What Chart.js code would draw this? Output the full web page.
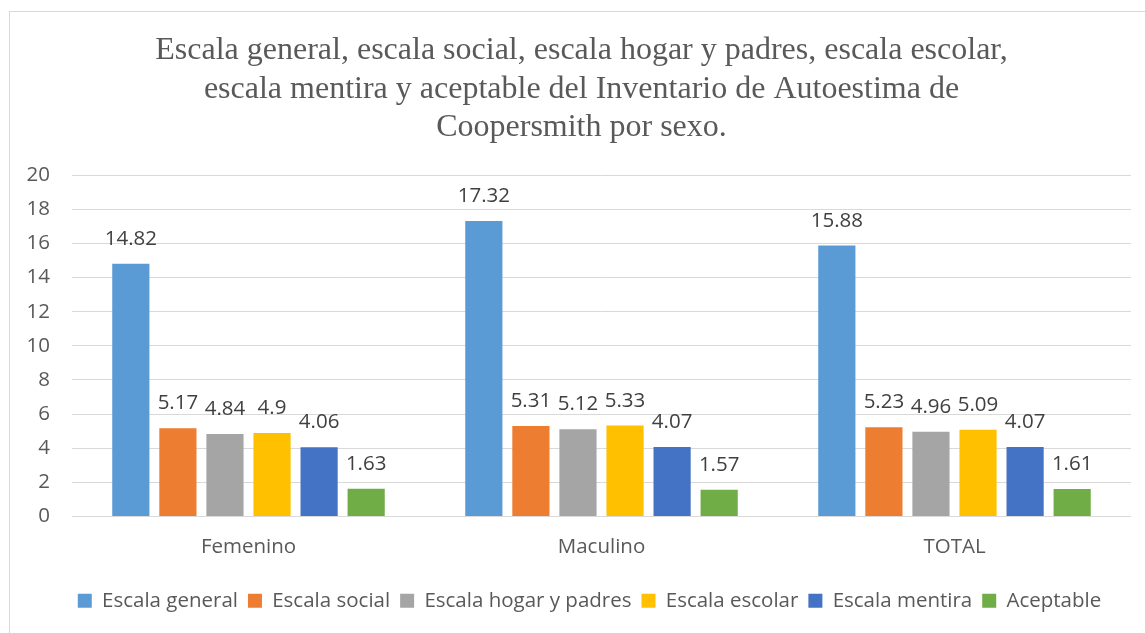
<!DOCTYPE html>
<html>
<head>
<meta charset="utf-8">
<script src="https://cdn.jsdelivr.net/npm/chart.js@4.4.1/dist/chart.umd.min.js"></script>
<style>
  html, body { margin: 0; padding: 0; background: #fff; overflow: hidden; }
  #wrap { position: relative; width: 1145px; height: 633px; }
</style>
</head>
<body>
<div id="wrap"><canvas id="chart" width="1145" height="633"></canvas></div>
<script>
// Autoestima (Coopersmith) por sexo
const categories = ['Femenino', 'Maculino', 'TOTAL'];
const seriesNames = ['Escala general', 'Escala social', 'Escala hogar y padres', 'Escala escolar', 'Escala mentira', 'Aceptable'];
const escalaGeneral = [14.82, 17.32, 15.88];
const escalaSocial = [5.17, 5.31, 5.23];
const escalaHogar = [4.84, 5.12, 4.96];
const escalaEscolar = [4.9, 5.33, 5.09];
const escalaMentira = [4.06, 4.07, 4.07];
const aceptable = [1.63, 1.57, 1.61];
const yTicks = [0, 2, 4, 6, 8, 10, 12, 14, 16, 18, 20];

const colors = ['#5B9BD5', '#ED7D31', '#A5A5A5', '#FFC000', '#4472C4', '#70AD47'];
const allValues = [escalaGeneral, escalaSocial, escalaHogar, escalaEscolar, escalaMentira, aceptable];

const sansFont = "'Open Sans', 'Noto Sans', sans-serif";
const textSize = 20.5;

// frame around the whole chart
const framePlugin = {
  id: 'frame',
  beforeDraw(chart) {
    const ctx = chart.ctx;
    ctx.save();
    ctx.strokeStyle = '#d9d9d9';
    ctx.lineWidth = 1;
    ctx.strokeRect(9.5, 11.5, 1145, 633);
    ctx.restore();
  }
};

// title and legend sit centred on the framed box, not the canvas
const shiftBlocks = {
  id: 'shiftBlocks',
  afterLayout(chart) {
    chart.titleBlock.left += 16;
    chart.titleBlock.right += 16;
    chart.legend.left += 24;
    chart.legend.right += 24;
  }
};

// value labels above each bar
const valueLabels = {
  id: 'valueLabels',
  afterDatasetsDraw(chart) {
    const ctx = chart.ctx;
    ctx.save();
    ctx.font = textSize + 'px ' + sansFont;
    ctx.fillStyle = '#404040';
    ctx.textAlign = 'center';
    ctx.textBaseline = 'alphabetic';
    chart.data.datasets.forEach((ds, i) => {
      chart.getDatasetMeta(i).data.forEach((bar, j) => {
        ctx.fillText(String(ds.data[j]), bar.x, bar.y - 19);
      });
    });
    ctx.restore();
  }
};

new Chart(document.getElementById('chart'), {
  type: 'bar',
  data: {
    labels: categories,
    datasets: seriesNames.map((name, i) => ({
      label: name,
      data: allValues[i],
      backgroundColor: colors[i],
      borderWidth: 0,
      categoryPercentage: 0.8,
      barPercentage: 0.79
    }))
  },
  options: {
    responsive: false,
    animation: false,
    layout: { padding: { top: 20, right: 14, bottom: 12, left: 0 } },
    plugins: {
      title: {
        display: true,
        text: [
          'Escala general, escala social, escala hogar y padres, escala escolar,',
          'escala mentira y aceptable del Inventario de Autoestima de',
          'Coopersmith por sexo.'
        ],
        color: '#595959',
        font: { family: "'Liberation Serif', 'Times New Roman', serif", size: 32, weight: 'normal', lineHeight: 1.19 },
        padding: { top: 12, bottom: 29 }
      },
      legend: {
        position: 'bottom',
        labels: {
          color: '#595959',
          font: { family: sansFont, size: textSize },
          boxWidth: 14,
          boxHeight: 14,
          padding: 10
        }
      },
      tooltip: { enabled: false }
    },
    scales: {
      x: {
        afterFit(scale) { scale.height = 64; },
        grid: { display: false, drawTicks: false },
        border: { display: false },
        ticks: { color: '#595959', font: { family: sansFont, size: textSize }, padding: 18 }
      },
      y: {
        min: 0,
        max: 20,
        afterBuildTicks(scale) { scale.ticks = yTicks.map(v => ({ value: v })); },
        afterFit(scale) { scale.width = 72; },
        grid: { color: '#d9d9d9', lineWidth: 1, drawTicks: false },
        border: { display: false },
        ticks: { color: '#595959', font: { family: sansFont, size: textSize }, padding: 22 }
      }
    }
  },
  plugins: [framePlugin, shiftBlocks, valueLabels]
});
</script>
</body>
</html>
